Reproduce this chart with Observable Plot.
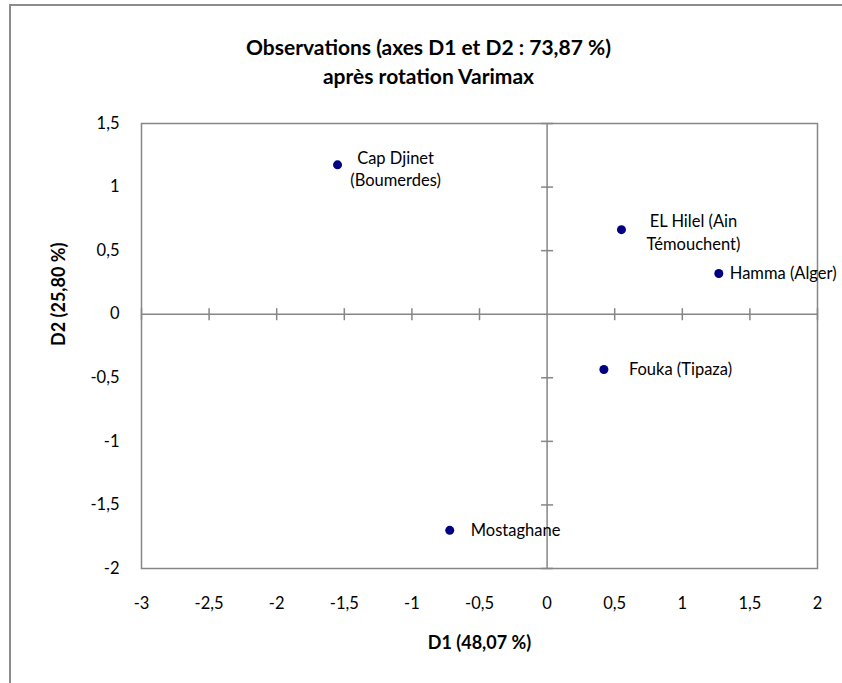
<!DOCTYPE html>
<html>
<head>
<meta charset="utf-8">
<script src="https://cdn.jsdelivr.net/npm/d3@7"></script>
<script src="https://cdn.jsdelivr.net/npm/@observablehq/plot@0.6"></script>
<style>
  html, body { margin: 0; padding: 0; background: #fff; }
  #wrap { position: relative; width: 842px; height: 683px; overflow: hidden; }
  #border { position: absolute; left: 9px; top: 4px; right: -10px; bottom: -10px;
            border-left: 2.5px solid #8c8c8c; border-top: 2.5px solid #8c8c8c; }
  #wrap svg { position: absolute; left: 0; top: 0; }
</style>
</head>
<body>
<div id="wrap"><div id="border"></div></div>
<script>
// ---- data ----
const names = ["Cap Djinet\n(Boumerdes)", "EL Hilel (Ain\nTémouchent)", "Hamma (Alger)", "Fouka (Tipaza)", "Mostaghane"];
const d1 = [-1.55, 0.55, 1.27, 0.42, -0.72];
const d2 = [1.175, 0.665, 0.32, -0.435, -1.70];
const xTicks = [-3, -2.5, -2, -1.5, -1, -0.5, 0, 0.5, 1, 1.5, 2];
const yTicks = [-2, -1.5, -1, -0.5, 0, 0.5, 1, 1.5];
const titleText = "Observations (axes D1 et D2 : 73,87 %)\naprès rotation Varimax";
const xLabel = "D1 (48,07 %)";
const yLabel = "D2 (25,80 %)";

const obs = names.map((n, i) => ({name: n, d1: d1[i], d2: d2[i]}));
const fmt = d => String(d).replace(".", ",");
const gray = "#868686";
const vTick = {draw(ctx) { ctx.moveTo(0, -6); ctx.lineTo(0, 6); }};
const hTick = {draw(ctx) { ctx.moveTo(-6, 0); ctx.lineTo(6, 0); }};
const navy = "#000080";
const lab = 16.5;

const chart = Plot.plot({
  width: 842,
  height: 683,
  marginLeft: 141,
  marginRight: 25,
  marginTop: 123,
  marginBottom: 115,
  style: {fontFamily: "Lato, 'Open Sans', sans-serif", fontSize: "16.5px", color: "#000", background: "transparent"},
  x: {domain: [-3, 2], ticks: xTicks, tickFormat: fmt, tickSize: 0, tickPadding: 29, label: null},
  y: {domain: [-2, 1.5], ticks: yTicks, tickFormat: fmt, tickSize: 0, tickPadding: 22, label: null},
  marks: [
    Plot.frame({stroke: gray, strokeWidth: 1.5}),
    Plot.ruleX([0], {stroke: gray, strokeWidth: 1.5}),
    Plot.ruleY([0], {stroke: gray, strokeWidth: 1.5}),
    Plot.dot(xTicks.filter(v => v !== 0), {x: d => d, y: 0, symbol: vTick, stroke: gray, strokeWidth: 1.5, fill: "none"}),
    Plot.dot(yTicks.filter(v => v !== 0), {x: 0, y: d => d, symbol: hTick, stroke: gray, strokeWidth: 1.5, fill: "none"}),
    Plot.dot(obs, {x: "d1", y: "d2", r: 4.5, fill: navy, stroke: "none"}),
    Plot.text(obs, {filter: d => d.name.startsWith("Cap"), x: "d1", y: "d2", text: "name", textAnchor: "middle", dx: 58, dy: 3, lineHeight: 1.35, fontSize: lab, fill: "#000"}),
    Plot.text(obs, {filter: d => d.name.startsWith("EL"), x: "d1", y: "d2", text: "name", textAnchor: "middle", dx: 72, dy: 1, lineHeight: 1.4, fontSize: lab, fill: "#000"}),
    Plot.text(obs, {filter: d => d.name.startsWith("Hamma"), x: "d1", y: "d2", text: "name", textAnchor: "start", dx: 11, fontSize: lab, fill: "#000"}),
    Plot.text(obs, {filter: d => d.name.startsWith("Fouka"), x: "d1", y: "d2", text: "name", textAnchor: "start", dx: 25, fontSize: lab, fill: "#000"}),
    Plot.text(obs, {filter: d => d.name.startsWith("Mosta"), x: "d1", y: "d2", text: "name", textAnchor: "start", dx: 21, fontSize: lab, fill: "#000"}),
    Plot.text([titleText], {frameAnchor: "top", dx: -51, dy: -63, lineAnchor: "middle", lineHeight: 1.38, fontSize: 21, fontWeight: "bold", fill: "#000"}),
    Plot.text([xLabel], {frameAnchor: "bottom", dy: 80, fontSize: 18, fontWeight: "bold", fill: "#000"}),
    Plot.text([yLabel], {frameAnchor: "left", dx: -82, rotate: -90, fontSize: 18, fontWeight: "bold", fill: "#000"})
  ]
});
document.getElementById("wrap").appendChild(chart);
</script>
</body>
</html>
